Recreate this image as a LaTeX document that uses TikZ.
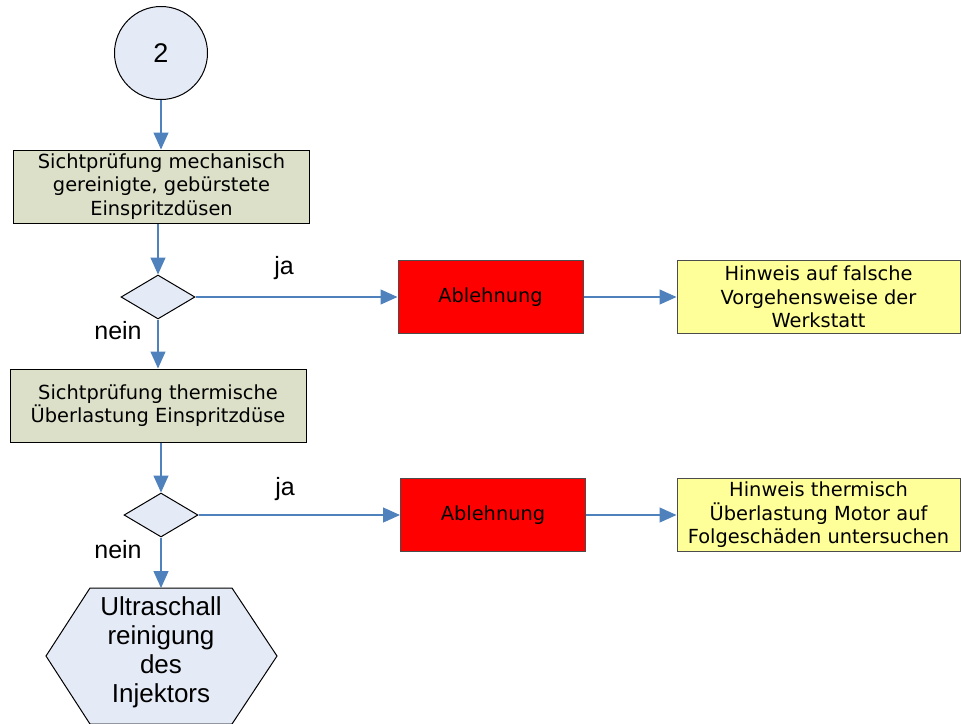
\documentclass[tikz,border=0pt]{standalone}
\usepackage{fontspec}
\setmainfont{Liberation Sans}
\newfontfamily\verdanafont{DejaVu Sans}
\usepackage{xcolor}
\definecolor{flow-blue}{RGB}{79,129,189}
\definecolor{start-fill}{RGB}{228,234,246}
\definecolor{check-fill}{RGB}{221,224,200}
\definecolor{note-fill}{RGB}{255,255,153}
\definecolor{reject-fill}{RGB}{255,0,0}
\usetikzlibrary{shapes.geometric,arrows.meta}

\begin{document}
\begin{tikzpicture}[
    x=0.5pt, y=-0.5pt,
    every node/.style={inner sep=0pt},
    flow/.style={flow-blue, line width=0.6pt, -{Triangle[length=8.5pt,width=7.5pt]}},
    boxtext/.style={align=center, font=\verdanafont\fontsize{9.7}{11.75}\selectfont},
    checkbox/.style={boxtext, draw=black, line width=0.5pt, fill=check-fill, minimum width=148pt, minimum height=36.5pt},
    rejectbox/.style={boxtext, draw=black!70, line width=0.5pt, fill=reject-fill, minimum width=92.5pt, minimum height=36.5pt},
    notebox/.style={boxtext, draw=black!70, line width=0.5pt, fill=note-fill, minimum width=141.5pt, minimum height=36.5pt},
    decision/.style={diamond, draw=black, line width=0.5pt, fill=start-fill, minimum width=37pt, minimum height=22pt},
    label/.style={font=\fontsize{12.5}{14}\selectfont}
]
\useasboundingbox (0,0) rectangle (961,723);

% Connector circle
\node[circle, draw=black, line width=0.5pt, fill=start-fill, minimum size=46.5pt, font=\fontsize{13.5}{15}\selectfont] (start) at (161,53) {2};

% First check
\node[checkbox] (check1) at (161.5,186.5) {Sichtprüfung mechanisch\\gereinigte, gebürstete\\Einspritzdüsen};
\node[decision] (dec1) at (158,297) {};
\node[rejectbox] (reject1) at (490.5,297) {Ablehnung};
\node[notebox] (note1) at (818.5,297) {Hinweis auf falsche\\Vorgehensweise der\\Werkstatt};
\node[label] (ja1) at (284,268) {ja};
\node[label] (nein1) at (118,331) {nein};

% Second check
\node[checkbox] (check2) at (158,405.5) {Sichtprüfung thermische\\Überlastung Einspritzdüse};
\node[decision] (dec2) at (161,515) {};
\node[rejectbox] (reject2) at (493,515) {Ablehnung};
\node[notebox] (note2) at (818.5,515) {Hinweis thermisch\\Überlastung Motor auf\\Folgeschäden untersuchen};
\node[label] (ja2) at (285,489) {ja};
\node[label] (nein2) at (118,550) {nein};

% Ultrasonic cleaning (hexagon)
\draw[draw=black, line width=0.5pt, fill=start-fill] (90,588) -- (232,588) -- (277,656) -- (232,724) -- (90,724) -- (46,656) -- cycle;
\node[align=center, font=\fontsize{13}{14.5}\selectfont] (ultra) at (161,652) {Ultraschall\\reinigung\\des\\Injektors};
\coordinate (ultratop) at (161,588);

% Connectors
\draw[flow] (start) -- (start.south |- check1.north);
\draw[flow] (check1.south -| dec1.north) -- (dec1.north);
\draw[flow] (dec1.east) -- (reject1.west);
\draw[flow] (reject1.east) -- (note1.west);
\draw[flow] (dec1.south) -- (dec1.south |- check2.north);
\draw[flow] (check2.south -| dec2.north) -- (dec2.north);
\draw[flow] (dec2.east) -- (reject2.west);
\draw[flow] (reject2.east) -- (note2.west);
\draw[flow] (dec2.south) -- (ultratop);

\end{tikzpicture}
\end{document}
